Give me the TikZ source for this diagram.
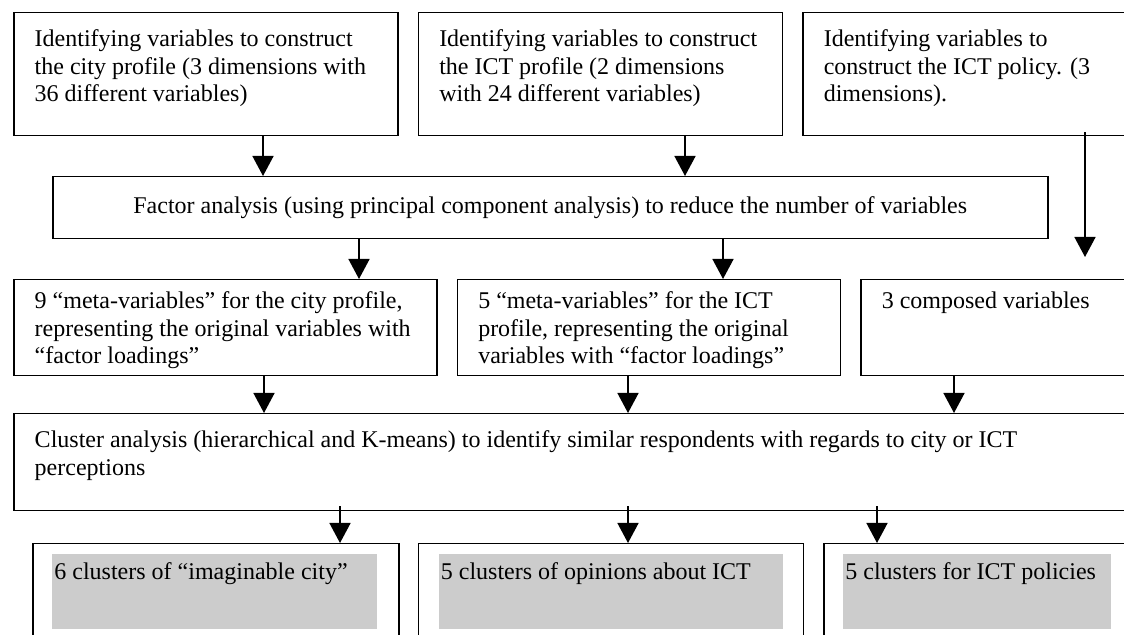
\documentclass[tikz,border=0pt]{standalone}
\usepackage{fontspec}
\setmainfont{Liberation Serif}
\usepackage{xcolor}
\usetikzlibrary{positioning}
\usetikzlibrary{arrows.meta}
\definecolor{shadegray}{RGB}{204,204,204}
% text at the top left of a box of the given outer size
\newcommand*{\boxtext}[3]{\parbox[c][\dimexpr#2-\pgfkeysvalueof{/pgf/inner ysep}*2\relax][t]{\dimexpr#1-\pgfkeysvalueof{/pgf/inner xsep}*2\relax}{#3}}

\begin{document}
\begin{tikzpicture}[x=0.5pt,y=-0.5pt,
    stage/.style={draw, line width=0.75pt, inner xsep=10.5pt, inner ysep=8.5pt,
        anchor=north west, font=\fontsize{12pt}{13.8pt}\selectfont},
    shadebox/.style={fill=shadegray, inner xsep=1pt, inner ysep=4pt,
        anchor=north west, font=\fontsize{12pt}{13.8pt}\selectfont},
    flow/.style={-{Triangle[length=10pt,width=10.5pt]}, line width=0.75pt}]
\useasboundingbox (0,0) rectangle (1124,635);
\clip (0,0) rectangle (1124,635);

% Top row
\node[stage] (cityvars) at (13,12)
    {\boxtext{192pt}{61.5pt}{Identifying variables to construct\\the city profile (3 dimensions with\\36 different variables)}};
\node[stage,
    right=9.5pt of cityvars
] (ictvars) {\boxtext{182pt}{61.5pt}{Identifying variables to construct\\the ICT profile (2 dimensions\\with 24 different variables)}};
\node[stage,
    right=9.5pt of ictvars
] (policyvars) {\boxtext{170pt}{61.5pt}{Identifying variables to\\construct the ICT policy. (3\\dimensions).}};

% Factor analysis
\node[stage,
    inner sep=0pt,
    minimum width=497.5pt,
    minimum height=31pt
] (factor) at (52,176) {Factor analysis (using principal component analysis) to reduce the number of variables};

% Meta-variables
\node[stage, inner ysep=6pt] (citymeta) at (13,279)
    {\boxtext{211.5pt}{48pt}{9 “meta-variables” for the city profile,\\representing the original variables with\\“factor loadings”}};
\node[stage, inner ysep=6pt,
    right=9.5pt of citymeta
] (ictmeta) {\boxtext{191.5pt}{48pt}{5 “meta-variables” for the ICT\\profile, representing the original\\variables with “factor loadings”}};
\node[stage, inner ysep=6pt,
    right=9.5pt of ictmeta
] (composed) {\boxtext{145pt}{48pt}{3 composed variables}};

% Cluster analysis
\node[stage] (cluster) at (13,413)
    {\boxtext{565pt}{48.5pt}{Cluster analysis (hierarchical and K-means) to identify similar respondents with regards to city or ICT\\perceptions}};

% Clusters
\node[stage, inner sep=0pt, minimum width=183pt, minimum height=60pt] (cityclust) at (32,543) {};
\node[stage, inner sep=0pt, minimum width=192.5pt, minimum height=60pt,
    right=9pt of cityclust] (ictclust) {};
\node[stage, inner sep=0pt, minimum width=160pt, minimum height=60pt,
    right=9.5pt of ictclust] (policyclust) {};

\node[shadebox] (cityfill) at ([xshift=10pt,yshift=-5.5pt]cityclust.north west)
    {\boxtext{162.5pt}{37.5pt}{6 clusters of “imaginable city”}};
\node[shadebox] (ictfill) at ([xshift=10.5pt,yshift=-5.5pt]ictclust.north west)
    {\boxtext{172pt}{37.5pt}{5 clusters of opinions about ICT}};
\node[shadebox] (policyfill) at ([xshift=10pt,yshift=-5.5pt]policyclust.north west)
    {\boxtext{134pt}{37.5pt}{5 clusters for ICT policies}};

% Arrows
\coordinate (policyend) at (1085,257);
\draw[flow] (cityvars.south -| 263,0) -- (factor.north -| 263,0);
\draw[flow] (ictvars.south -| 685,0) -- (factor.north -| 685,0);
\draw[flow] ([yshift=2pt]policyvars.south -| policyend) -- (policyend);

\draw[flow] (factor.south -| 359,0) -- (citymeta.north -| 359,0);
\draw[flow] (factor.south -| 723,0) -- (ictmeta.north -| 723,0);

\draw[flow] (citymeta.south -| 264,0) -- (cluster.north -| 264,0);
\draw[flow] (ictmeta.south -| 628,0) -- (cluster.north -| 628,0);
\draw[flow] (composed.south -| 954,0) -- (cluster.north -| 954,0);

\draw[flow] ([yshift=2.5pt]cluster.south -| 340,0) -- (cityclust.north -| 340,0);
\draw[flow] ([yshift=2.5pt]cluster.south -| 628,0) -- (ictclust.north -| 628,0);
\draw[flow] ([yshift=2.5pt]cluster.south -| 877,0) -- (policyclust.north -| 877,0);

\end{tikzpicture}
\end{document}
